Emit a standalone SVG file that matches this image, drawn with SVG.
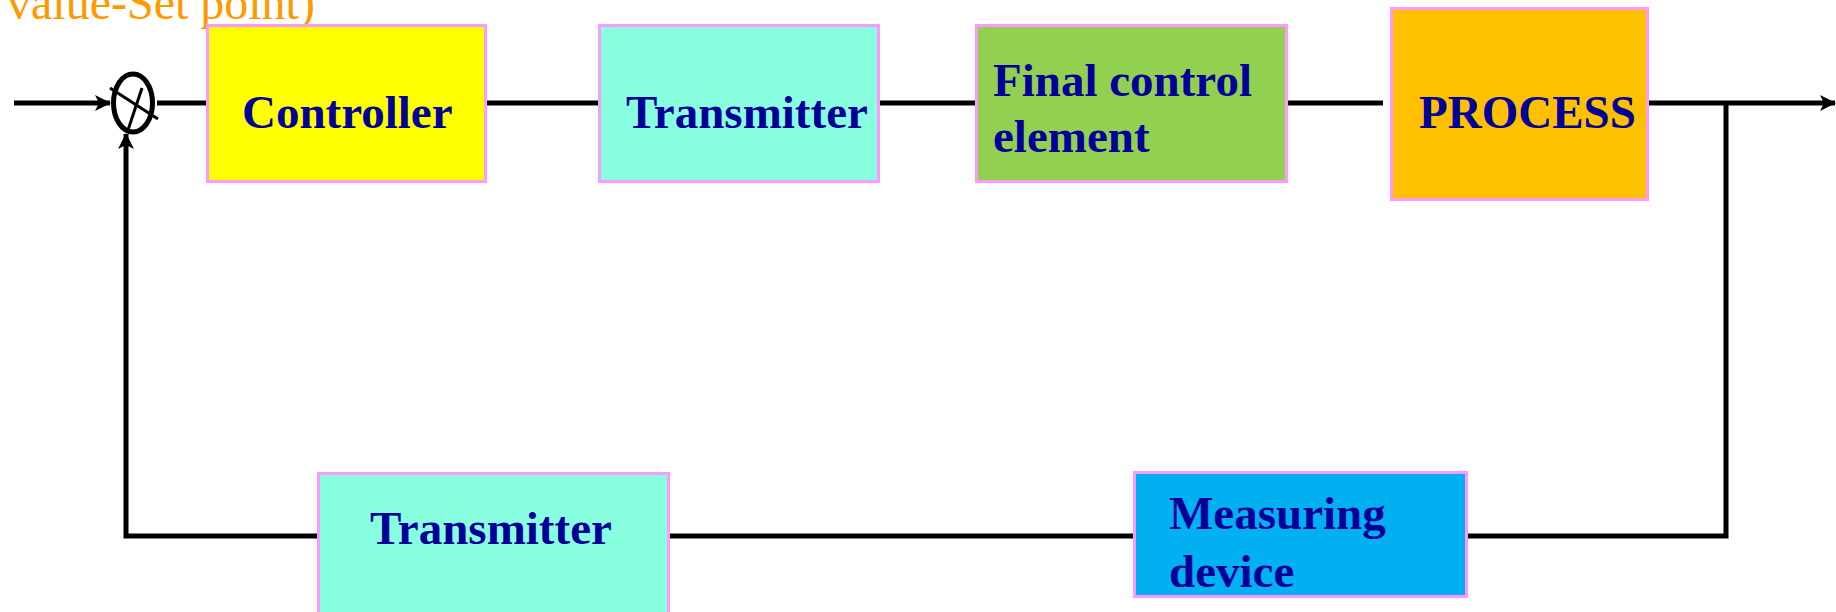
<svg xmlns="http://www.w3.org/2000/svg" width="1836" height="612" viewBox="0 0 1836 612">
<style>
.box{stroke:#FF99FF;stroke-width:3}
.lbl{font-family:"Liberation Serif","Times New Roman",serif;font-weight:bold;font-size:47px;fill:#000099}
.wire{stroke:#000;stroke-width:5;fill:none}
.note{font-family:"Liberation Serif","Times New Roman",serif;font-size:48px;fill:#FF9900}
</style>
<defs>
<marker id="arr" viewBox="0 0 16 16" refX="15" refY="8" markerWidth="16" markerHeight="16" markerUnits="userSpaceOnUse" orient="auto">
<path d="M0,0 L16,8 L0,16 L4,8 Z" fill="#000"/>
</marker>
</defs>
<rect width="1836" height="612" fill="#fff"/>
<text class="note" x="7" y="19">value-Set point)</text>
<g id="connectors">
<line class="wire" x1="14" y1="103" x2="110" y2="103" marker-end="url(#arr)"/>
<line class="wire" x1="157" y1="103" x2="206" y2="103"/>
<line class="wire" x1="487" y1="103" x2="598" y2="103"/>
<line class="wire" x1="880" y1="103" x2="975" y2="103"/>
<line class="wire" x1="1288" y1="103" x2="1383" y2="103"/>
<line class="wire" x1="1649" y1="103" x2="1835" y2="103" marker-end="url(#arr)"/>
<polyline class="wire" points="1726,103 1726,536 1468,536"/>
<line class="wire" x1="1133" y1="536" x2="670" y2="536"/>
<polyline class="wire" points="317,536 126,536 126,134" marker-end="url(#arr)"/>
</g>
<g id="summing-junction">
<ellipse cx="133" cy="103" rx="19.5" ry="29" fill="none" stroke="#000" stroke-width="5"/>
<line x1="110" y1="88" x2="158" y2="119" stroke="#000" stroke-width="3"/>
<line x1="142" y1="88" x2="128" y2="130" stroke="#000" stroke-width="3"/>
</g>
<g id="controller">
<rect class="box" x="207.5" y="25.5" width="278" height="156" fill="#FFFF00"/>
<text class="lbl" x="242" y="128">Controller</text>
</g>
<g id="transmitter-forward">
<rect class="box" x="599.5" y="25.5" width="279" height="156" fill="#88FFDF"/>
<text class="lbl" x="626" y="128">Transmitter</text>
</g>
<g id="final-control-element">
<rect class="box" x="976.5" y="25.5" width="310" height="156" fill="#92D050"/>
<text class="lbl" x="993" y="96">Final control</text>
<text class="lbl" x="993" y="152">element</text>
</g>
<g id="process">
<rect class="box" x="1391.5" y="8.5" width="256" height="191" fill="#FFC000"/>
<text class="lbl" x="1419" y="128">PROCESS</text>
</g>
<g id="measuring-device">
<rect class="box" x="1134.5" y="472.5" width="332" height="124" fill="#00B0F0"/>
<text class="lbl" x="1169" y="529">Measuring</text>
<text class="lbl" x="1169" y="587">device</text>
</g>
<g id="transmitter-feedback">
<rect class="box" x="318.5" y="473.5" width="350" height="160" fill="#88FFDF"/>
<text class="lbl" x="370" y="544">Transmitter</text>
</g>
</svg>
